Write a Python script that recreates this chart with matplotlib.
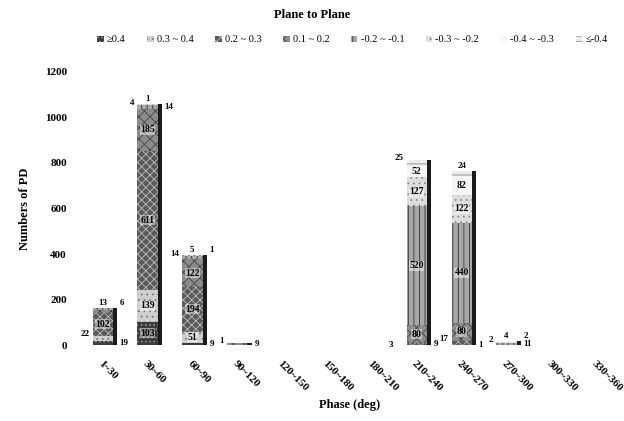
import numpy as np
import matplotlib.pyplot as plt

plt.rcParams['font.family'] = ['Liberation Serif', 'DejaVu Serif']
plt.rcParams['hatch.linewidth'] = 0.6

categories = ['1~30', '30~60', '60~90', '90~120', '120~150', '150~180',
              '180~210', '210~240', '240~270', '270~300', '300~330', '330~360']
series_names = ['≥0.4', '0.3 ~ 0.4', '0.2 ~ 0.3', '0.1 ~ 0.2',
                '-0.2 ~ -0.1', '-0.3 ~ -0.2', '-0.4 ~ -0.3', '≤-0.4']

ge04 = [19, 103, 9, 0, 0, 0, 0, 0, 0, 0, 0, 0]
p34 = [22, 139, 51, 0, 0, 0, 0, 0, 1, 0, 0, 0]
p23 = [102, 611, 194, 0, 0, 0, 0, 9, 17, 0, 0, 0]
p12 = [13, 185, 122, 9, 0, 0, 0, 80, 80, 0, 0, 0]
m21 = [6, 14, 14, 1, 0, 0, 3, 520, 440, 11, 0, 0]
m32 = [0, 4, 5, 0, 0, 0, 0, 127, 122, 2, 0, 0]
m43 = [0, 1, 1, 0, 0, 0, 0, 52, 82, 4, 0, 0]
le04 = [0, 0, 0, 0, 0, 0, 0, 25, 24, 2, 0, 0]
series = [ge04, p34, p23, p12, m21, m32, m43, le04]

faces = ['#3c3c3c', '#cfcfcf', '#5a5a5a', '#8c8c8c', '#a8a8a8', '#dedede', '#f6f6f6', '#ececec']
hatches = ['....', '...', 'xxxx', 'xxx', '|||', '...', '', '---']
edges = ['#9a9a9a', '#777777', '#bdbdbd', '#444444', '#333333', '#888888', '#bbbbbb', '#888888']

fig = plt.figure(figsize=(6.24, 4.21), dpi=100)
ax = fig.add_axes([0.125, 0.18, 0.87, 0.65])

x = np.arange(len(categories))
w = 0.45
totals = np.sum(series, axis=0)

# dark side of the "3D" bars
ax.bar(x + 0.1, totals, w, color='#1a1a1a', zorder=1)

bottom = np.zeros(len(categories))
handles = []
small_count = np.zeros(len(categories), dtype=int)
for vals, name, fc, h, ec in zip(series, series_names, faces, hatches, edges):
    vals = np.array(vals, dtype=float)
    b = ax.bar(x, vals, w, bottom=bottom, color=fc, hatch=h, edgecolor=ec,
               linewidth=0, zorder=2, label=name)
    handles.append(b)
    for i, v in enumerate(vals):
        if v <= 0:
            continue
        yc = bottom[i] + v / 2
        if v >= 40:
            ax.text(x[i], yc, f'{int(v)}', ha='center', va='center', fontsize=7,
                    fontweight='bold', color='black', zorder=4,
                    bbox=dict(boxstyle='square,pad=0.05', fc='white', ec='none', alpha=0.45))
        else:
            pos = small_count[i] % 4
            small_count[i] += 1
            if pos == 0:
                ax.text(x[i] + 0.38, yc, f'{int(v)}', ha='left', va='center',
                        fontsize=6.5, fontweight='bold', zorder=4)
            elif pos == 1:
                ax.text(x[i] - 0.3, bottom[i] + v + 8, f'{int(v)}', ha='right', va='center',
                        fontsize=6.5, fontweight='bold', zorder=4)
            elif pos == 2:
                ax.text(x[i], totals[i] + 22, f'{int(v)}', ha='center', va='center',
                        fontsize=6.5, fontweight='bold', zorder=4)
            else:
                ax.text(x[i] + 0.38, totals[i] + 22, f'{int(v)}', ha='left', va='center',
                        fontsize=6.5, fontweight='bold', zorder=4)
    bottom += vals

ax.set_xlim(-0.55, len(categories) - 0.45)
ax.set_ylim(0, 1200)
ax.set_yticks(range(0, 1201, 200))
ax.tick_params(axis='y', length=0, labelsize=8, pad=8)
ax.tick_params(axis='x', length=0, labelsize=8, pad=10)
ax.set_xticks(x)
ax.set_xticklabels(categories, rotation=-45, ha='left', rotation_mode='anchor', fontweight='bold')
for lbl in ax.get_yticklabels():
    lbl.set_fontweight('bold')
for s in ax.spines.values():
    s.set_visible(False)

ax.set_ylabel('Numbers of PD', fontsize=9, fontweight='bold', labelpad=10)
ax.set_xlabel('Phase (deg)', fontsize=9, fontweight='bold', labelpad=4)

fig.text(0.5, 0.965, 'Plane to Plane', ha='center', va='center', fontsize=9, fontweight='bold')
fig.legend(handles=handles, loc='center', bbox_to_anchor=(0.565, 0.905), ncol=8, frameon=False,
           fontsize=7.5, handlelength=0.6, handleheight=0.6, handletextpad=0.3, columnspacing=2.1)

fig.savefig('out.png', dpi=100)
